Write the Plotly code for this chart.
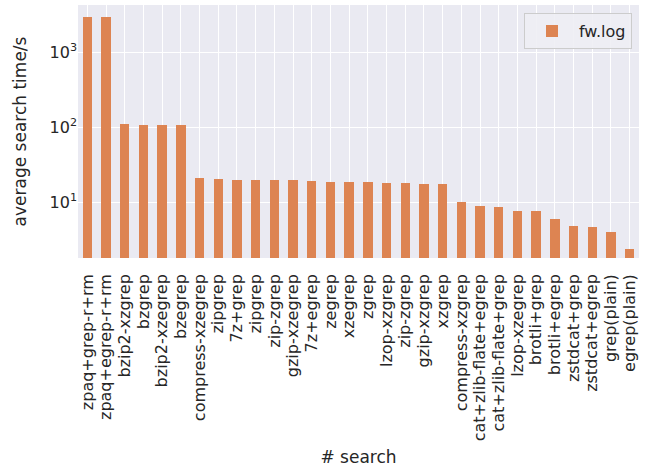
import plotly.graph_objects as go

# Search methods (x categories, in plotted order)
methods = [
    "zpaq+grep-r+rm", "zpaq+egrep-r+rm", "bzip2-xzgrep", "bzgrep", "bzip2-xzegrep",
    "bzegrep", "compress-xzegrep", "zipgrep", "7z+grep", "zipgrep",
    "zip-zgrep", "gzip-xzegrep", "7z+egrep", "zegrep", "xzegrep",
    "zgrep", "lzop-xzgrep", "zip-zgrep", "gzip-xzgrep", "xzgrep",
    "compress-xzgrep", "cat+zlib-flate+egrep", "cat+zlib-flate+grep", "lzop-xzegrep", "brotli+grep",
    "brotli+egrep", "zstdcat+grep", "zstdcat+egrep", "grep(plain)", "egrep(plain)",
]

# Average search time in seconds for fw.log
fw_log = [
    2950, 2950, 110, 106, 106,
    106, 21.1, 20.5, 19.8, 19.8,
    19.8, 19.8, 19.2, 18.6, 18.6,
    18.6, 18.1, 18.1, 17.5, 17.5,
    9.9, 8.9, 8.65, 7.65, 7.65,
    5.9, 4.83, 4.69, 3.98, 2.38,
]

y_ticks = [10, 100, 1000]
y_tick_text = ["10<sup>1</sup>", "10<sup>2</sup>", "10<sup>3</sup>"]

positions = list(range(len(methods)))

fig = go.Figure(
    go.Bar(
        x=positions,
        y=fw_log,
        width=0.5,
        name="fw.log",
        marker=dict(color="#DD8452", line=dict(width=0)),
        showlegend=True,
    )
)

font_family = "DejaVu Sans"
text_color = "#262626"

fig.update_layout(
    width=646,
    height=467,
    margin=dict(l=78, r=7, t=5, b=209),
    paper_bgcolor="white",
    plot_bgcolor="#EAEAF2",
    font=dict(family=font_family, color=text_color, size=16),
    bargap=0,
    showlegend=True,
    legend=dict(
        x=0.9875,
        y=0.968,
        xanchor="right",
        yanchor="top",
        itemwidth=44,
        bgcolor="rgba(238,238,244,0.9)",
        bordercolor="#cccccc",
        borderwidth=1,
        font=dict(size=16, family=font_family, color=text_color),
    ),
    xaxis=dict(
        range=[-0.5, len(methods) - 0.5],
        tickmode="array",
        tickvals=positions,
        ticktext=methods,
        tickangle=-90,
        automargin=False,
        showgrid=True,
        gridcolor="white",
        gridwidth=1,
        zeroline=False,
        showline=False,
        ticks="",
        ticklabelstandoff=12,
        tickfont=dict(size=16),
        title=dict(text="# search", font=dict(size=17), standoff=14),
    ),
    yaxis=dict(
        type="log",
        range=[0.2533, 3.6267],
        tickmode="array",
        tickvals=y_ticks,
        ticktext=y_tick_text,
        automargin=False,
        showgrid=True,
        gridcolor="white",
        gridwidth=1,
        zeroline=False,
        showline=False,
        ticks="",
        tickfont=dict(size=16),
        title=dict(text="average search time/s", font=dict(size=17), standoff=18),
    ),
)

fig.write_html("out.html")
